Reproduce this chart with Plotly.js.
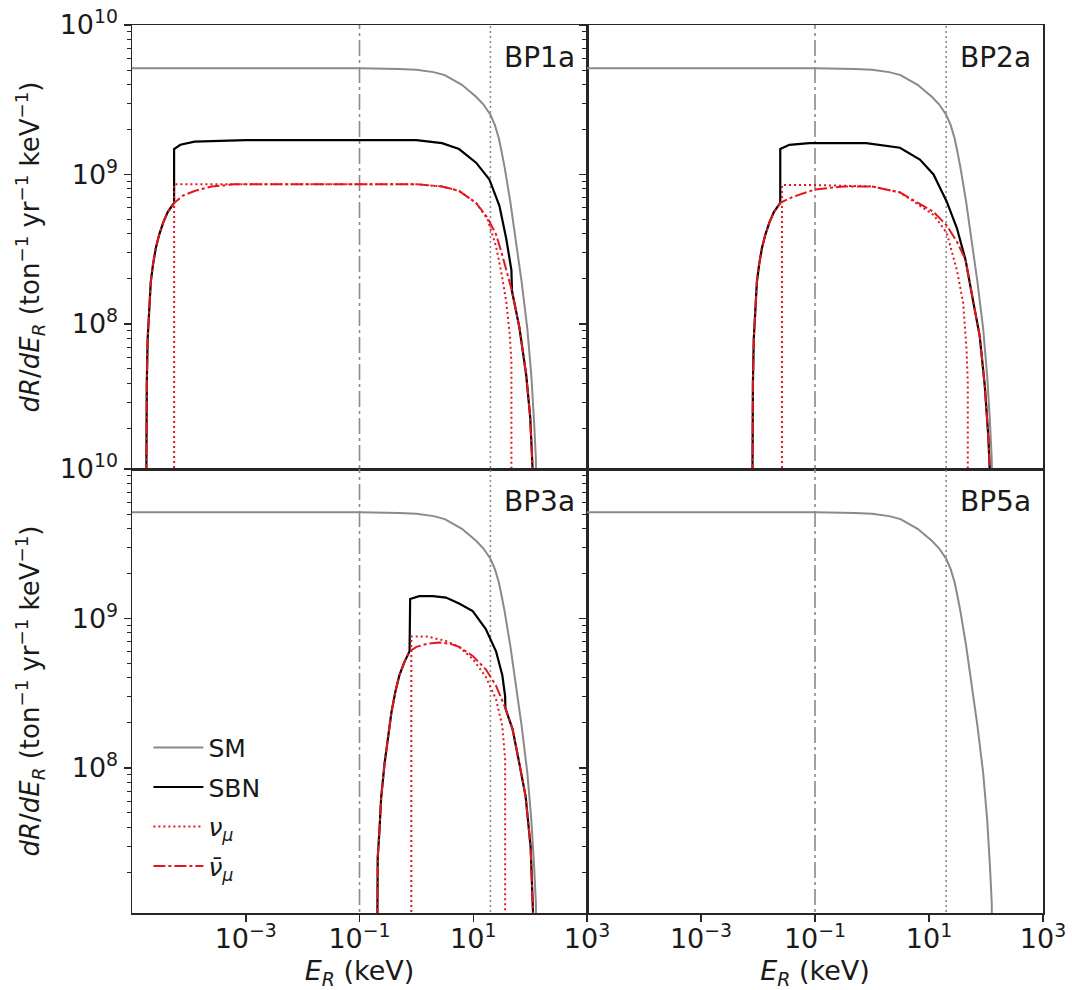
<!DOCTYPE html>
<html><head><meta charset="utf-8">
<script src="https://cdn.plot.ly/plotly-3.0.1.min.js"></script>
<style>body{margin:0;background:#fff}#chart{width:1072px;height:990px}</style>
</head><body><div id="chart"></div>
<script>
// ---------- data (E_R in keV, rate in ton^-1 yr^-1 keV^-1) ----------
const panelNames = ['BP1a', 'BP2a', 'BP3a', 'BP5a'];
const seriesNames = ['SM', 'SBN', '<i>ν</i><sub><i>μ</i></sub>', '<i>ν̄</i><sub><i>μ</i></sub>'];

// vertical reference lines
const vlineDashDotE = 0.1;
const vlineDotE = 20;

// SM (identical in all four panels)
const smE = [1e-5, 0.1, 0.5, 1, 2, 3.16, 6.31, 11.2, 15, 20, 24, 28.2, 31.6, 35.5, 44.7, 56.2, 70.8, 89.1, 105, 117, 126, 132];
const smR = [5.13e9, 5.13e9, 5.07e9, 5.01e9, 4.84e9, 4.62e9, 3.98e9, 3.31e9, 2.95e9, 2.51e9, 2.14e9, 1.74e9, 1.41e9, 1.12e9, 6.6e8, 3.63e8, 1.91e8, 9.3e7, 4.47e7, 2.24e7, 1.26e7, 3.2e6];

// BP1a
const bp1SbnE = [1.738e-5, 1.770e-5, 1.820e-5, 1.884e-5, 1.995e-5, 2.138e-5, 2.344e-5, 2.630e-5, 3.020e-5, 3.548e-5, 4.266e-5, 5.495e-5, 5.495e-5, 7.08e-5, 1.26e-4, 1e-3, 1, 2.82, 5.62, 11.2, 19.1, 28.8, 38.0, 46.8, 47.9, 64.6, 85.1, 100, 110, 115];
const bp1SbnR = [1e6, 1.58e7, 3.98e7, 7.94e7, 1.32e8, 1.91e8, 2.51e8, 3.24e8, 3.98e8, 4.79e8, 5.62e8, 6.46e8, 1.48e9, 1.58e9, 1.66e9, 1.70e9, 1.70e9, 1.62e9, 1.48e9, 1.20e9, 9.3e8, 6.17e8, 3.72e8, 2.29e8, 1.66e8, 9.5e7, 4.57e7, 2.4e7, 1.1e7, 3.2e6];
const bp1NuE = [5.5e-5, 5.5e-5, 1, 2.82, 5.62, 11.2, 17.8, 25.1, 31.6, 38.0, 43.7, 46.8, 46.8];
const bp1NuR = [1e6, 8.6e8, 8.6e8, 8.32e8, 7.76e8, 6.46e8, 5.01e8, 3.31e8, 2.14e8, 1.41e8, 8.5e7, 5.6e7, 1e6];
const bp1NubE = [1.738e-5, 1.770e-5, 1.820e-5, 1.884e-5, 1.995e-5, 2.138e-5, 2.344e-5, 2.630e-5, 3.020e-5, 3.548e-5, 4.266e-5, 5.495e-5, 7.94e-5, 1.26e-4, 2.51e-4, 6.31e-4, 1, 2.82, 5.62, 11.2, 17.8, 25.1, 32.4, 39.8, 47.9, 64.6, 85.1, 100, 110, 115];
const bp1NubR = [1e6, 1.58e7, 3.98e7, 7.94e7, 1.32e8, 1.91e8, 2.51e8, 3.24e8, 3.98e8, 4.79e8, 5.62e8, 6.46e8, 7.24e8, 7.76e8, 8.32e8, 8.6e8, 8.6e8, 8.32e8, 7.76e8, 6.46e8, 5.13e8, 3.98e8, 2.88e8, 2.14e8, 1.66e8, 9.5e7, 4.57e7, 2.4e7, 1.1e7, 3.2e6];

// BP2a
const bp2SbnE = [7.76e-3, 7.91e-3, 8.13e-3, 8.42e-3, 8.91e-3, 9.55e-3, 1.047e-2, 1.175e-2, 1.349e-2, 1.585e-2, 1.905e-2, 2.455e-2, 2.455e-2, 3.55e-2, 7.94e-2, 0.794, 3.09, 6.92, 12.0, 20.4, 30.9, 39.8, 43.7, 60.3, 77.6, 95.5, 110, 117, 120];
const bp2SbnR = [1e6, 1.58e7, 3.98e7, 7.94e7, 1.32e8, 1.91e8, 2.51e8, 3.24e8, 3.98e8, 4.79e8, 5.62e8, 6.46e8, 1.48e9, 1.58e9, 1.62e9, 1.62e9, 1.51e9, 1.26e9, 1.0e9, 6.6e8, 4.37e8, 3.02e8, 2.69e8, 1.38e8, 8.3e7, 3.8e7, 1.74e7, 1.0e7, 3.2e6];
const bp2NuE = [2.63e-2, 2.63e-2, 0.1, 1, 3.09, 12.0, 20.4, 30.9, 39.8, 45.7, 47.9, 47.9];
const bp2NuR = [1e6, 8.5e8, 8.5e8, 8.32e8, 7.59e8, 5.37e8, 4.07e8, 2.29e8, 1.38e8, 6.6e7, 4.0e7, 1e6];
const bp2NubE = [7.76e-3, 7.91e-3, 8.13e-3, 8.42e-3, 8.91e-3, 9.55e-3, 1.047e-2, 1.175e-2, 1.349e-2, 1.585e-2, 1.905e-2, 2.455e-2, 4.07e-2, 0.1, 0.316, 1, 3.09, 12.0, 20.4, 30.9, 43.7, 60.3, 77.6, 95.5, 110, 117, 120];
const bp2NubR = [1e6, 1.58e7, 3.98e7, 7.94e7, 1.32e8, 1.91e8, 2.51e8, 3.24e8, 3.98e8, 4.79e8, 5.62e8, 6.46e8, 7.08e8, 7.94e8, 8.32e8, 8.32e8, 7.59e8, 5.62e8, 4.57e8, 3.55e8, 2.69e8, 1.38e8, 8.3e7, 3.8e7, 1.74e7, 1.0e7, 3.2e6];

// BP3a
const bp3SbnE = [0.1995, 0.2042, 0.2089, 0.2239, 0.2399, 0.2754, 0.3162, 0.3631, 0.4266, 0.5012, 0.6166, 0.7586, 0.776, 1.12, 1.95, 3.31, 5.62, 9.77, 16.6, 25.1, 32.4, 36.3, 36.7, 49.0, 64.6, 83.2, 102, 112, 115];
const bp3SbnR = [1e6, 1.58e7, 2.51e7, 3.8e7, 6.31e7, 1.07e8, 1.66e8, 2.34e8, 3.24e8, 4.17e8, 5.13e8, 6.03e8, 1.35e9, 1.41e9, 1.41e9, 1.38e9, 1.26e9, 1.12e9, 8.5e8, 6.03e8, 4.17e8, 3.02e8, 2.51e8, 1.82e8, 1.07e8, 6.46e7, 2.95e7, 1.1e7, 3.2e6];
const bp3NuE = [0.813, 0.813, 1.51, 3.31, 5.62, 9.77, 16.6, 25.1, 32.4, 36.3, 36.3];
const bp3NuR = [1e6, 7.59e8, 7.59e8, 7.08e8, 6.46e8, 5.37e8, 4.07e8, 2.88e8, 1.91e8, 1.15e8, 1e6];
const bp3NubE = [0.1995, 0.2042, 0.2089, 0.2239, 0.2399, 0.2754, 0.3162, 0.3631, 0.4266, 0.5012, 0.6166, 0.7586, 1, 1.51, 2.51, 3.98, 5.62, 9.77, 16.6, 25.1, 36.7, 49.0, 64.6, 83.2, 102, 112, 115];
const bp3NubR = [1e6, 1.58e7, 2.51e7, 3.8e7, 6.31e7, 1.07e8, 1.66e8, 2.34e8, 3.24e8, 4.17e8, 5.13e8, 6.03e8, 6.46e8, 6.76e8, 6.92e8, 6.76e8, 6.46e8, 5.62e8, 4.57e8, 3.55e8, 2.51e8, 1.82e8, 1.07e8, 6.46e7, 2.95e7, 1.1e7, 3.2e6];

// tick labels
const xTickVals = [1e-3, 1e-1, 1e1, 1e3];
const xTickText = ['10<sup>−3</sup>', '10<sup>−1</sup>', '10<sup>1</sup>', '10<sup>3</sup>'];
const yTickVals = [1e8, 1e9, 1e10];
const yTickText = ['10<sup>8</sup>', '10<sup>9</sup>', '10<sup>10</sup>'];
const yMinorVals = [2e7,3e7,4e7,5e7,6e7,7e7,8e7,9e7,2e8,3e8,4e8,5e8,6e8,7e8,8e8,9e8,2e9,3e9,4e9,5e9,6e9,7e9,8e9,9e9];

// ---------- styling ----------
const FONT = 'DejaVu Sans, sans-serif';
const AX = '#262626';
const TXT = '#1a1a1a';
const GRAY = '#8a8a8a';
const RED = '#e3161e';
const panelData = [
  {sbn: [bp1SbnE, bp1SbnR], nu: [bp1NuE, bp1NuR], nub: [bp1NubE, bp1NubR]},
  {sbn: [bp2SbnE, bp2SbnR], nu: [bp2NuE, bp2NuR], nub: [bp2NubE, bp2NubR]},
  {sbn: [bp3SbnE, bp3SbnR], nu: [bp3NuE, bp3NuR], nub: [bp3NubE, bp3NubR]},
  null
];
const axisIds = [['x', 'y'], ['x2', 'y2'], ['x3', 'y3'], ['x4', 'y4']];

const traces = [];
panelData.forEach((pd, i) => {
  const [xa, ya] = axisIds[i];
  const leg = (i === 2);
  traces.push({x: [vlineDashDotE, vlineDashDotE], y: [1e6, 1e11], xaxis: xa, yaxis: ya, mode: 'lines',
    line: {color: GRAY, width: 1.6, dash: '16px,4px,3px,4px'}, showlegend: false, hoverinfo: 'skip'});
  traces.push({x: [vlineDotE, vlineDotE], y: [1e6, 1e11], xaxis: xa, yaxis: ya, mode: 'lines',
    line: {color: GRAY, width: 1.6, dash: '2px,3px'}, showlegend: false, hoverinfo: 'skip'});
  traces.push({x: smE, y: smR, xaxis: xa, yaxis: ya, mode: 'lines', name: seriesNames[0],
    line: {color: GRAY, width: 2}, showlegend: leg, legendgroup: 'g0'});
  if (pd) {
    traces.push({x: pd.sbn[0], y: pd.sbn[1], xaxis: xa, yaxis: ya, mode: 'lines', name: seriesNames[1],
      line: {color: '#000', width: 2.2}, showlegend: leg, legendgroup: 'g1'});
    traces.push({x: pd.nu[0], y: pd.nu[1], xaxis: xa, yaxis: ya, mode: 'lines', name: seriesNames[2],
      line: {color: RED, width: 2, dash: '2px,3px'}, showlegend: leg, legendgroup: 'g2'});
    traces.push({x: pd.nub[0], y: pd.nub[1], xaxis: xa, yaxis: ya, mode: 'lines', name: seriesNames[3],
      line: {color: RED, width: 2, dash: '12px,3px,3px,3px'}, showlegend: leg, legendgroup: 'g3'});
  }
});

const xDomL = [0, 0.4995], xDomR = [0.4995, 1];
const yDomT = [0.5, 1], yDomB = [0, 0.5];
function xAxis(domain, anchor, labels) {
  return {
    type: 'log', range: [-5, 3], domain: domain, anchor: anchor,
    tickvals: xTickVals, ticktext: xTickText, showticklabels: labels,
    ticks: labels ? 'outside' : '', ticklen: 7, tickwidth: 1.5, tickcolor: AX,
    ticklabelstandoff: -6,
    tickfont: {family: FONT, size: 27, color: TXT},
    showgrid: false, zeroline: false, showline: true, mirror: true, linecolor: AX, linewidth: 1.5,
    title: labels ? {text: '<i>E</i><sub><i>R</i></sub> (keV)', font: {family: FONT, size: 27, color: TXT}, standoff: 8} : {text: ''},
    automargin: false
  };
}
function yAxis(domain, anchor, labels) {
  return {
    type: 'log', range: [7.03, 10], domain: domain, anchor: anchor,
    tickvals: yTickVals, ticktext: yTickText, showticklabels: labels,
    ticks: 'outside', ticklen: 7, tickwidth: 1.5, tickcolor: AX,
    minor: {tickvals: yMinorVals, ticks: 'outside', ticklen: 4, tickwidth: 1, tickcolor: AX},
    tickfont: {family: FONT, size: 27, color: TXT},
    showgrid: false, zeroline: false, showline: true, mirror: true, linecolor: AX, linewidth: 1.5,
    title: labels ? {text: '<i>dR</i>/<i>dE</i><sub><i>R</i></sub> (ton<sup>−1</sup> yr<sup>−1</sup> keV<sup>−1</sup>)', font: {family: FONT, size: 26, color: TXT}, standoff: 12} : {text: ''},
    automargin: false
  };
}

const annotations = panelNames.map((n, i) => ({
  text: n, xref: axisIds[i][0] + ' domain', yref: axisIds[i][1] + ' domain',
  x: 0.978, y: 0.926, xanchor: 'right', yanchor: 'middle', showarrow: false,
  font: {family: FONT, size: 28, color: TXT}
}));

const layout = {
  width: 1072, height: 990,
  margin: {l: 132, r: 29, t: 25, b: 77},
  paper_bgcolor: '#fff', plot_bgcolor: '#fff',
  showlegend: true,
  legend: {x: 0.018, y: 0.212, xanchor: 'left', yanchor: 'top', bgcolor: 'rgba(0,0,0,0)',
    font: {family: FONT, size: 25, color: TXT}, traceorder: 'grouped', tracegroupgap: 4, itemwidth: 50},
  xaxis: xAxis(xDomL, 'y', false), yaxis: yAxis(yDomT, 'x', true),
  xaxis2: xAxis(xDomR, 'y2', false), yaxis2: yAxis(yDomT, 'x2', false),
  xaxis3: xAxis(xDomL, 'y3', true), yaxis3: yAxis(yDomB, 'x3', true),
  xaxis4: xAxis(xDomR, 'y4', true), yaxis4: yAxis(yDomB, 'x4', false),
  annotations: annotations
};

Plotly.newPlot('chart', traces, layout, {displayModeBar: false, staticPlot: true});
</script></body></html>
